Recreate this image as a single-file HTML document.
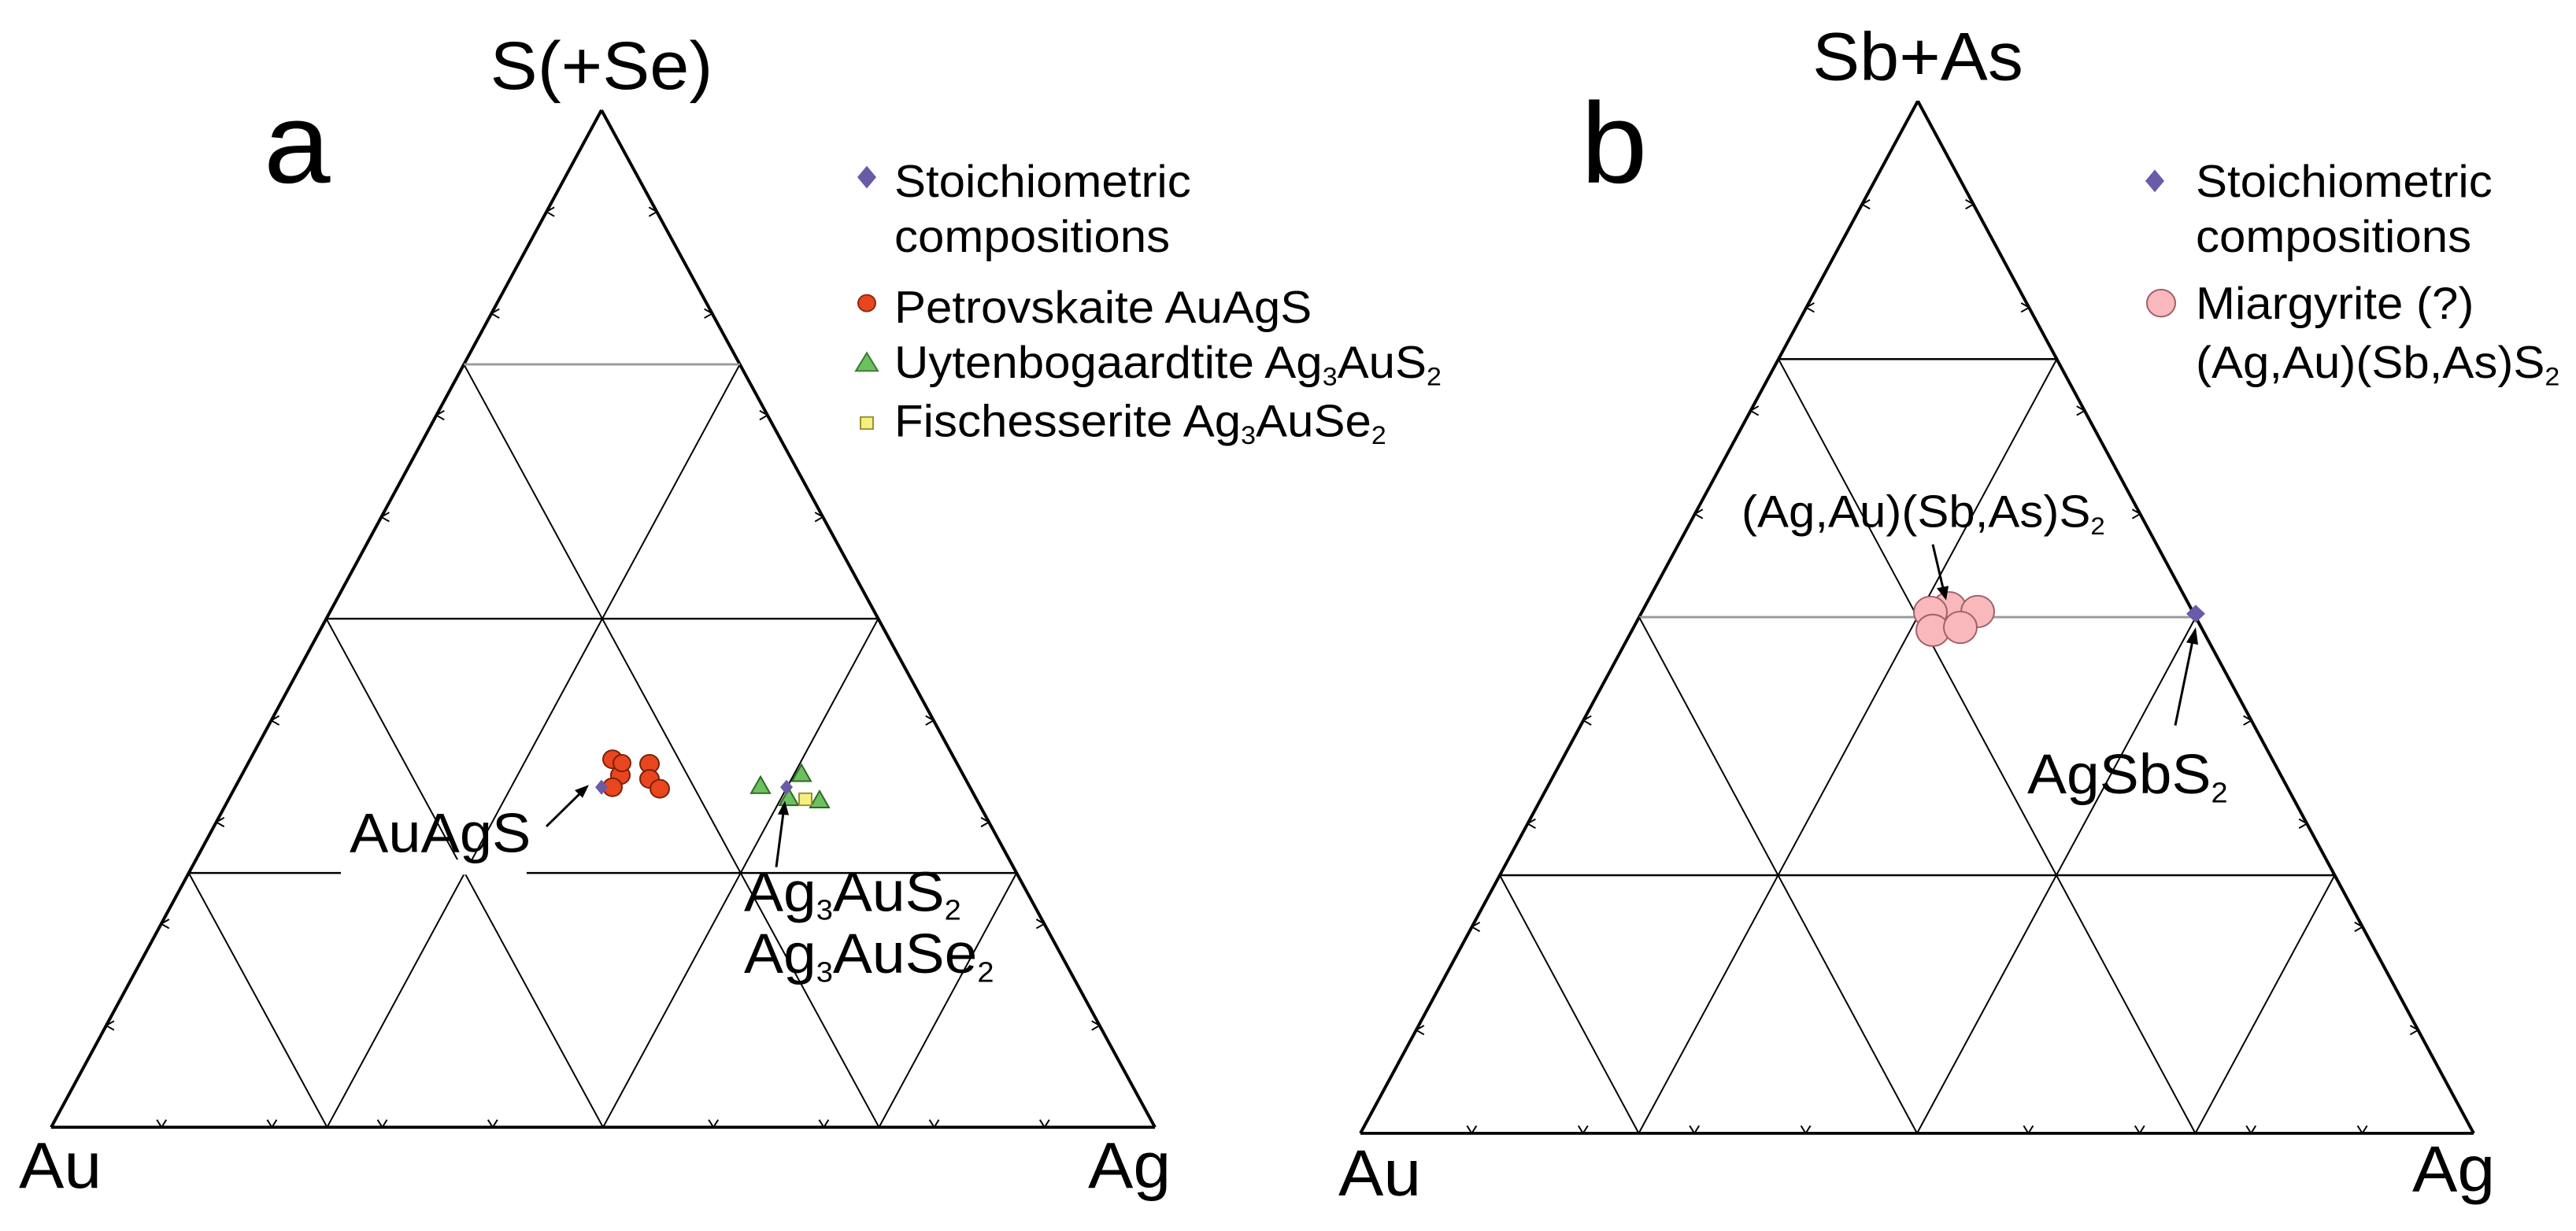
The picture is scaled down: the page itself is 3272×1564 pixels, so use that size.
<!DOCTYPE html>
<html><head><meta charset="utf-8"><style>
html,body{margin:0;padding:0;background:#fff;}
svg{display:block;font-family:"Liberation Sans",Arial,sans-serif;}
</style></head><body>
<svg id="s" width="3272" height="1564" viewBox="0 0 3272 1564" xmlns="http://www.w3.org/2000/svg">
<g transform="scale(1,0.958)">
<g id="grid"></g>
<!-- panel a labels -->
<text x="764" y="118" font-size="90" text-anchor="middle">S(+Se)</text>
<text x="335" y="242" font-size="152">a</text>
<text x="24" y="1575" font-size="86">Au</text>
<text x="1382" y="1575" font-size="86">Ag</text>
<g font-size="60">
<polygon points="1101,220 1113,235 1101,250 1089,235" fill="#6a5aa8"/>
<text x="1136" y="261">Stoichiometric</text>
<text x="1136" y="334">compositions</text>
<circle cx="1101" cy="402" r="11" fill="#e8461e" stroke="#8a2a10" stroke-width="2"/>
<text x="1136" y="428">Petrovskaite AuAgS</text>
<polygon points="1101,468 1115,492 1087,492" fill="#6cc060" stroke="#3a7a30" stroke-width="2"/>
<text x="1136" y="501">Uytenbogaardtite Ag<tspan font-size="34" dy="10">3</tspan><tspan dy="-10">AuS</tspan><tspan font-size="34" dy="10">2</tspan></text>
<rect x="1093" y="553" width="16" height="16" fill="#f4ef80" stroke="#9a9030" stroke-width="2"/>
<text x="1136" y="579">Fischesserite Ag<tspan font-size="34" dy="10">3</tspan><tspan dy="-10">AuSe</tspan><tspan font-size="34" dy="10">2</tspan></text>
</g>
<!-- panel a data -->
<g fill="#e8461e" stroke="#7a2008" stroke-width="2">
<circle cx="778" cy="1007" r="12"/><circle cx="825" cy="1013" r="12"/><circle cx="788" cy="1028" r="12"/>
<circle cx="778" cy="1044" r="12"/><circle cx="825" cy="1033" r="12"/><circle cx="838" cy="1046" r="12"/><circle cx="790" cy="1012" r="11"/>
</g>
<polygon points="764,1034 772,1044 764,1054 756,1044" fill="#6a5aa8"/>
<g fill="#6cc060" stroke="#2a6a20" stroke-width="2">
<polygon points="966,1030 978,1052 954,1052"/><polygon points="1018,1014 1030,1036 1006,1036"/>
<polygon points="1002,1046 1014,1068 990,1068"/><polygon points="1041,1049 1053,1071 1029,1071"/>
</g>
<rect x="1015" y="1052" width="16" height="16" fill="#f4ef80" stroke="#9a9030" stroke-width="2"/>
<polygon points="999,1034 1007,1044 999,1054 991,1044" fill="#6a5aa8"/>
<rect x="433" y="1140" width="236" height="20" fill="#fff"/>
<text x="444" y="1130" font-size="74">AuAgS</text>
<line x1="694" y1="1096" x2="738" y2="1051" stroke="#000" stroke-width="3"/>
<polygon points="748,1041 730,1048 740,1058" fill="#000"/>
<line x1="986" y1="1150" x2="995" y2="1078" stroke="#000" stroke-width="3"/>
<polygon points="997,1062 988,1080 1002,1081" fill="#000"/>
<text x="945" y="1208" font-size="75">Ag<tspan font-size="38" dy="12">3</tspan><tspan dy="-12">AuS</tspan><tspan font-size="38" dy="12">2</tspan></text>
<text x="945" y="1290" font-size="75">Ag<tspan font-size="38" dy="12">3</tspan><tspan dy="-12">AuSe</tspan><tspan font-size="38" dy="12">2</tspan></text>
<!-- panel b labels -->
<text x="2436" y="106" font-size="90" text-anchor="middle">Sb+As</text>
<text x="2008" y="242" font-size="152">b</text>
<text x="1700" y="1585" font-size="86">Au</text>
<text x="3064" y="1580" font-size="86">Ag</text>
<g font-size="60">
<polygon points="2737,225 2749,240 2737,255 2725,240" fill="#6a5aa8"/>
<text x="2789" y="261">Stoichiometric</text>
<text x="2789" y="334">compositions</text>
<circle cx="2745" cy="402" r="18" fill="#f8b8bc" stroke="#a06068" stroke-width="2"/>
<text x="2789" y="423">Miargyrite (?)</text>
<text x="2789" y="501">(Ag,Au)(Sb,As)S<tspan font-size="34" dy="10">2</tspan></text>
</g>
<g fill="#f8b8bc" stroke="#a06068" stroke-width="2">
<circle cx="2476" cy="806" r="21"/><circle cx="2512" cy="811" r="21"/><circle cx="2452" cy="812" r="21"/>
<circle cx="2455" cy="836" r="21"/><circle cx="2490" cy="832" r="21"/>
</g>
<polygon points="2789,802 2801,814 2789,826 2777,814" fill="#6a5aa8"/>
<text x="2212" y="699" font-size="60">(Ag,Au)(Sb,As)S<tspan font-size="33" dy="10">2</tspan></text>
<line x1="2455" y1="722" x2="2468" y2="780" stroke="#000" stroke-width="3"/>
<polygon points="2472,796 2460,780 2475,777" fill="#000"/>
<line x1="2763" y1="962" x2="2785" y2="850" stroke="#000" stroke-width="3"/>
<polygon points="2789,832 2777,852 2792,855" fill="#000"/>
<text x="2575" y="1052" font-size="75">AgSbS<tspan font-size="38" dy="12">2</tspan></text>
</g>
</svg>
<script>
(function(){
var g=document.getElementById('grid'),NS='http://www.w3.org/2000/svg';
function ln(x1,y1,x2,y2,c,w){var l=document.createElementNS(NS,'line');l.setAttribute('x1',x1);l.setAttribute('y1',y1);l.setAttribute('x2',x2);l.setAttribute('y2',y2);l.setAttribute('stroke',c||'#000');l.setAttribute('stroke-width',w||2);g.appendChild(l);}
function tri(A,L,R,grayLevel){
 function P(s,ag){var au=1-s-ag;return [au*L[0]+ag*R[0]+s*A[0],au*L[1]+ag*R[1]+s*A[1]];}
 ln(L[0],L[1],R[0],R[1],'#000',4);ln(L[0],L[1],A[0],A[1],'#000',4);ln(R[0],R[1],A[0],A[1],'#000',4);
 [0.25,0.5,0.75].forEach(function(t){
  var a=P(t,0),b=P(t,1-t);ln(a[0],a[1],b[0],b[1],t==grayLevel?'#999':'#000',t==grayLevel?3:2.5);
  a=P(0,t);b=P(1-t,t);ln(a[0],a[1],b[0],b[1],'#000',2);
  a=P(0,1-t);b=P(1-t,0);ln(a[0],a[1],b[0],b[1],'#000',2);
 });
 for(var i=1;i<10;i++){if(i==5)continue;var f=i/10;
  var p=P(0,f);ln(p[0]-6,p[1]-10,p[0],p[1],'#000',2);ln(p[0]+6,p[1]-10,p[0],p[1],'#000',2);
  p=P(f,0);ln(p[0]+10,p[1]-6,p[0],p[1],'#000',2);ln(p[0]+10,p[1]+6,p[0],p[1],'#000',2);
  p=P(f,1-f);ln(p[0]-10,p[1]-6,p[0],p[1],'#000',2);ln(p[0]-10,p[1]+6,p[0],p[1],'#000',2);
 }
}
tri([764,146],[65,1495],[1467,1495],0.75);
tri([2436,134],[1728,1503],[3142,1503],0.5);
})();
</script>
</body></html>
